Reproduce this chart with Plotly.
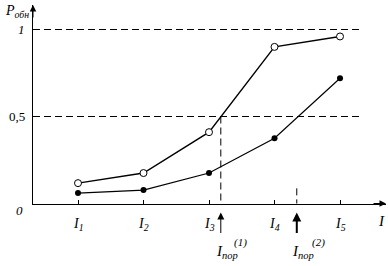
import plotly.graph_objects as go

# ---- data ----
categories = [1, 2, 3, 4, 5]
tick_labels = ["I<sub>1</sub>", "I<sub>2</sub>", "I<sub>3</sub>", "I<sub>4</sub>", "I<sub>5</sub>"]
upper_vals = [0.117, 0.175, 0.41, 0.90, 0.96]
lower_vals = [0.06, 0.077, 0.175, 0.375, 0.72]
thresholds = [3.18, 4.34]
threshold_tops = [0.5, 0.087]
ref_levels = [1.0, 0.5]

FONT = "Liberation Serif, Times New Roman, serif"
X0, X1 = 0.313, 5.702
Y0, Y1 = -0.5 / 174, 1.1408


def px_(x):
    return (x - X0) / (X1 - X0)


def py_(y):
    return (y - Y0) / (Y1 - Y0)


fig = go.Figure()

# dashed reference lines
for lv in ref_levels:
    fig.add_trace(go.Scatter(x=[X0, 5.336], y=[lv, lv], mode="lines",
                             line=dict(color="black", width=1, dash="7px,4px"),
                             hoverinfo="skip", showlegend=False, cliponaxis=False))
for tx, ty in zip(thresholds, threshold_tops):
    fig.add_trace(go.Scatter(x=[tx, tx], y=[ty, 0], mode="lines",
                             line=dict(color="black", width=1, dash="7px,4px"),
                             hoverinfo="skip", showlegend=False))

fig.add_trace(go.Scatter(x=categories, y=lower_vals, mode="lines+markers",
                         line=dict(color="black", width=1.2),
                         marker=dict(symbol="circle", size=6, color="black"),
                         showlegend=False))
fig.add_trace(go.Scatter(x=categories, y=upper_vals, mode="lines+markers",
                         line=dict(color="black", width=1.4),
                         marker=dict(symbol="circle", size=7, color="white",
                                     line=dict(color="black", width=1)),
                         showlegend=False))

ann = []
# axis arrows
ann.append(dict(x=0, y=1, xref="paper", yref="paper", ax=0, ay=14, text="", showarrow=True,
                arrowhead=2, arrowsize=1.3, arrowwidth=1, arrowcolor="black", standoff=0))
ann.append(dict(x=1, y=py_(0), xref="paper", yref="paper", ax=-14, ay=0, text="", showarrow=True,
                arrowhead=2, arrowsize=1.3, arrowwidth=1, arrowcolor="black", standoff=0))
# threshold arrows
for tx, w in zip(thresholds, [1, 2]):
    ann.append(dict(x=px_(tx), y=py_(-0.052), xref="paper", yref="paper", ax=0, ay=22,
                    text="", showarrow=True, arrowhead=2, arrowsize=1.4 if w == 1 else 0.9,
                    arrowwidth=w, arrowcolor="black", standoff=0))


def label(x, y, text, size, xanchor="center"):
    ann.append(dict(x=px_(x), y=py_(y), xref="paper", yref="paper", text=text, showarrow=False,
                    xanchor=xanchor, yanchor="middle",
                    font=dict(family=FONT, size=size, color="black")))


# tick labels
for c, t in zip(categories, tick_labels):
    label(c, -0.12, "<i>" + t + "</i>", 14)
# axis texts
label(0.114, -0.04, "<i>0</i>", 13)
label(0.22, 1.0, "<i>1</i>", 13, "right")
label(0.22, 0.5, "0,5", 13, "right")
label(-0.15, 1.105, "<i>P<sub>обн</sub></i>", 14, "left")
label(5.626, -0.103, "<i>I</i>", 15)
# threshold labels
for tx, lab, dx in zip(thresholds, ["(1)", "(2)"], [0.17, 0.2]):
    label(tx - 0.11, -0.28, "<i>I<sub>пор</sub></i>", 15, "left")
    label(tx + dx, -0.225, "<i>" + lab + "</i>", 11, "left")

fig.update_layout(
    width=388, height=266,
    margin=dict(l=33, r=2, t=5, b=62, pad=0),
    paper_bgcolor="white", plot_bgcolor="white",
    font=dict(family=FONT, color="black"),
    annotations=ann,
    xaxis=dict(range=[X0, X1], showgrid=False, zeroline=False, showline=True, linecolor="black",
               linewidth=1, tickvals=categories, ticks="inside", ticklen=4, tickcolor="black",
               tickwidth=1, showticklabels=False, automargin=False),
    yaxis=dict(range=[Y0, Y1], showgrid=False, zeroline=False, showline=True, linecolor="black",
               linewidth=1, showticklabels=False, ticks="", automargin=False),
)

fig.write_html("out.html")
